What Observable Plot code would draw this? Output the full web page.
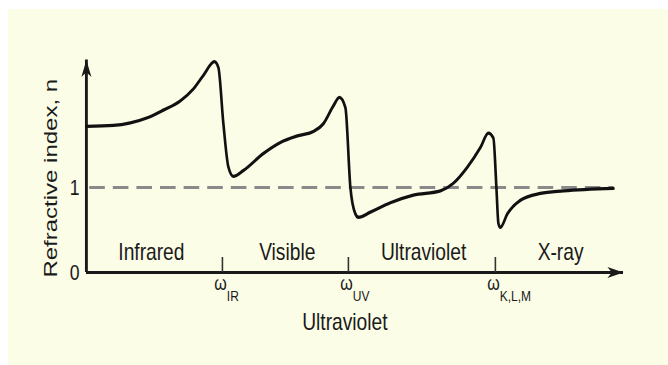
<!DOCTYPE html>
<html>
<head>
<meta charset="utf-8">
<script src="https://cdn.jsdelivr.net/npm/d3@7"></script>
<script src="https://cdn.jsdelivr.net/npm/@observablehq/plot@0.6"></script>
<style>
  html, body { margin: 0; padding: 0; background: #ffffff; width: 668px; height: 365px; overflow: hidden; }
  #panel { position: absolute; left: 8px; top: 9px; right: 0; bottom: 0; background: #fbfde6; }
  #chart { position: absolute; left: 0; top: 0; width: 668px; height: 365px; }
</style>
</head>
<body>
<div id="panel"></div>
<div id="chart"></div>
<script>
// Dispersion curve: refractive index n against frequency (arbitrary units, 0–100)
const freq = [0, 5.03, 8.19, 11.36, 14.34, 17.5, 19.93, 21.79, 23.84, 24.58, 25.51, 26.44, 27.37, 29.24,
  32.96, 36.13, 39.48, 42.27, 44.13, 45.99, 47.11, 48.23, 49.16, 50.09, 50.65, 52.89, 56.61, 60.89,
  65.92, 68.34, 70.95, 73.37, 74.86, 75.79, 76.35, 76.72, 77.09, 78.4, 80.82, 84.54, 88.83, 98.14];
const refractiveIndex = [1.72, 1.73, 1.76, 1.82, 1.91, 2.02, 2.16, 2.32, 2.48, 2.41, 1.75, 1.24, 1.13, 1.2,
  1.4, 1.53, 1.61, 1.66, 1.75, 1.96, 2.06, 1.94, 1.0, 0.69, 0.65, 0.71, 0.82, 0.91,
  0.96, 1.05, 1.24, 1.47, 1.64, 1.58, 1.0, 0.58, 0.53, 0.69, 0.85, 0.93, 0.96, 0.99];

// Resonance frequencies marked on the axis
const edgeFreq = [25.33, 48.79, 76.16];
const edgeSymbol = ["ω", "ω", "ω"];
const edgeSubscript = ["IR", "UV", "K,L,M"];

// Spectral bands
const bandNames = ["Infrared", "Visible", "Ultraviolet", "X-ray"];
const bandCenters = [12.1, 37.4, 62.8, 88.3];

// Axis labelling
const yTickValues = [0, 1];
const vacuumLevel = [1];
const xDomain = [0, 100];
const yDomain = [0, 2.5];
const yTitle = "Refractive index, n";
const xTitle = "Ultraviolet";

const curve = freq.map((f, i) => ({f, n: refractiveIndex[i]}));
const edges = edgeFreq.map((f, i) => ({f, sym: edgeSymbol[i], sub: edgeSubscript[i]}));
const bands = bandNames.map((name, i) => ({name, f: bandCenters[i]}));

// Filled "stealth" arrowhead, tip at the origin, pointing up
const arrowHead = (len, half) => ({
  draw(ctx) {
    ctx.moveTo(0, 0);
    ctx.lineTo(half, len);
    ctx.lineTo(0, len * 0.72);
    ctx.lineTo(-half, len);
    ctx.closePath();
  }
});

// The drawing is laid out on a wider canvas and squeezed horizontally into 668px
const squeeze = 0.8;
const W = 668 / squeeze;
const H = 365;
const ink = "#1a1a1a";
const font = "'Liberation Sans', Arial, Helvetica, sans-serif";

const plot = Plot.plot({
  width: W,
  height: H,
  marginLeft: 86 / squeeze,
  marginRight: W - 623 / squeeze,
  marginTop: 59.5,
  marginBottom: 93,
  x: {domain: xDomain, axis: null},
  y: {domain: yDomain, axis: null},
  style: {fontFamily: font, background: "transparent", color: ink},
  marks: [
    // n = 1 reference level
    Plot.ruleY(vacuumLevel, {x1: 0.6, x2: 98.2, stroke: "#8a8a8a", strokeWidth: 3, strokeDasharray: "19.5,10"}),
    // axes
    Plot.ruleX([xDomain[0]], {y1: yDomain[0], y2: yDomain[1], stroke: ink, strokeWidth: 3.6}),
    Plot.ruleY([yDomain[0]], {x1: xDomain[0], x2: xDomain[1], stroke: ink, strokeWidth: 3.2}),
    Plot.dot([{f: xDomain[0], n: yDomain[1]}], {x: "f", y: "n", symbol: arrowHead(17, 6.25), r: 1, fill: ink, stroke: null}),
    Plot.dot([{f: xDomain[1], n: yDomain[0]}], {x: "f", y: "n", symbol: arrowHead(20, 5.6), rotate: 90, r: 1, fill: ink, stroke: null}),
    // resonance ticks
    Plot.ruleX(edges, {x: "f", y1: 0, y2: 0, insetTop: -15, stroke: "#333", strokeWidth: 2}),
    // y tick labels
    Plot.text(yTickValues, {x: xDomain[0], y: d => d, text: d => String(d), textAnchor: "end", lineAnchor: "middle", dx: -8.5, fontSize: 22, fill: ink}),
    // band names
    Plot.text(bands, {x: "f", y: 0.235, text: "name", textAnchor: "middle", lineAnchor: "middle", fontSize: 24, fill: ink}),
    // ω labels with subscripts
    Plot.text(edges, {x: "f", y: 0, text: "sym", textAnchor: "end", lineAnchor: "middle", dx: 5.5, dy: 11, fontSize: 20, fill: ink}),
    Plot.text(edges, {x: "f", y: 0, text: "sub", textAnchor: "start", lineAnchor: "middle", dx: 5.5, dy: 23.5, fontSize: 15, fill: ink}),
    // axis titles
    Plot.text([xTitle], {frameAnchor: "bottom", text: d => d, lineAnchor: "middle", dx: -12.5, dy: 50, fontSize: 24, fill: ink}),
    Plot.text([yTitle], {frameAnchor: "left", text: d => d, rotate: -90, textAnchor: "middle", lineAnchor: "middle", dx: -(86 - 50) / squeeze, dy: 12, fontSize: 24, fill: ink}),
    // dispersion curve
    Plot.line(curve, {x: "f", y: "n", curve: "monotone-x", stroke: "#111", strokeWidth: 3.3})
  ]
});

plot.setAttribute("width", 668);
plot.setAttribute("height", H);
plot.setAttribute("preserveAspectRatio", "none");
plot.style.width = "668px";
plot.style.height = H + "px";
plot.style.maxWidth = "none";
plot.style.display = "block";
document.getElementById("chart").appendChild(plot);
</script>
</body>
</html>
